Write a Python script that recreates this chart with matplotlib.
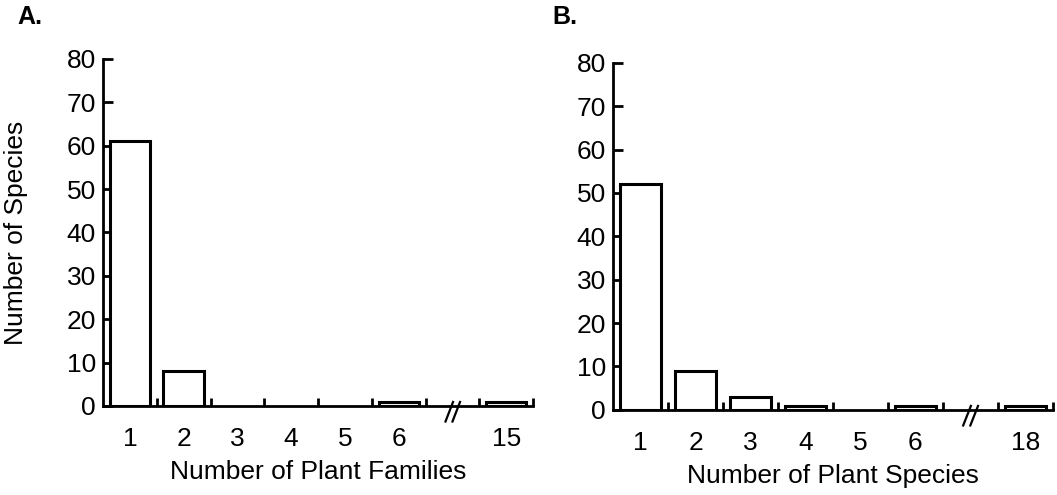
import matplotlib
matplotlib.use("Agg")
import matplotlib.pyplot as plt
import numpy as np

plt.rcParams['font.family'] = ['Liberation Sans', 'DejaVu Sans']

# Panel A data
cats_a = ["1", "2", "3", "4", "5", "6", "", "15"]
vals_a = [61, 8, 0, 0, 0, 1, None, 1]
# Panel B data
cats_b = ["1", "2", "3", "4", "5", "6", "", "18"]
vals_b = [52, 9, 3, 1, 0, 1, None, 1]
yticks = [0, 10, 20, 30, 40, 50, 60, 70, 80]

fig = plt.figure(figsize=(10.57, 4.95), dpi=100)
ax_a = fig.add_axes([0.0974, 0.180, 0.407, 0.701])
ax_b = fig.add_axes([0.580, 0.172, 0.416, 0.701])

FS = 19


def draw(ax, cats, vals, xlabel):
    n = len(cats)
    x = np.arange(n)
    for xi, v in zip(x, vals):
        if v is None or v == 0:
            continue
        ax.bar(xi, v, width=0.75, facecolor='white', edgecolor='black',
               linewidth=2.2, zorder=3)
    ax.set_xlim(-0.5, n - 0.5)
    ax.set_ylim(0, 80)
    for s in ['top', 'right']:
        ax.spines[s].set_visible(False)
    for s in ['left', 'bottom']:
        ax.spines[s].set_linewidth(2)
    ax.set_yticks(yticks)
    ax.set_yticklabels([str(t) for t in yticks], fontsize=FS)
    ax.tick_params(axis='y', direction='in', length=7, width=2, pad=5)
    # x: labels at centers, boundary ticks inward
    ax.set_xticks(x)
    ax.set_xticklabels(cats, fontsize=FS)
    ax.tick_params(axis='x', which='major', length=0, pad=15)
    ax.set_xticks(np.arange(0.5, n, 1.0), minor=True)
    ax.tick_params(axis='x', which='minor', direction='in', length=6, width=2)
    ax.set_xlabel(xlabel, fontsize=FS, labelpad=7)
    # break marks
    bx = n - 2
    for dx in (-0.06, 0.07):
        ax.plot([bx + dx - 0.07, bx + dx + 0.07], [-3.6, 0.9], color='black',
                linewidth=1.6, clip_on=False, zorder=5)


draw(ax_a, cats_a, vals_a, "Number of Plant Families")
draw(ax_b, cats_b, vals_b, "Number of Plant Species")

ax_a.set_ylabel("Number of Species", fontsize=FS)
ax_a.yaxis.set_label_coords(-0.175, 0.5)

fig.text(0.016, 0.965, "A.", fontsize=18, fontweight='bold', va='center')
fig.text(0.523, 0.965, "B.", fontsize=18, fontweight='bold', va='center')

fig.savefig("out.png", dpi=100, facecolor='white')
